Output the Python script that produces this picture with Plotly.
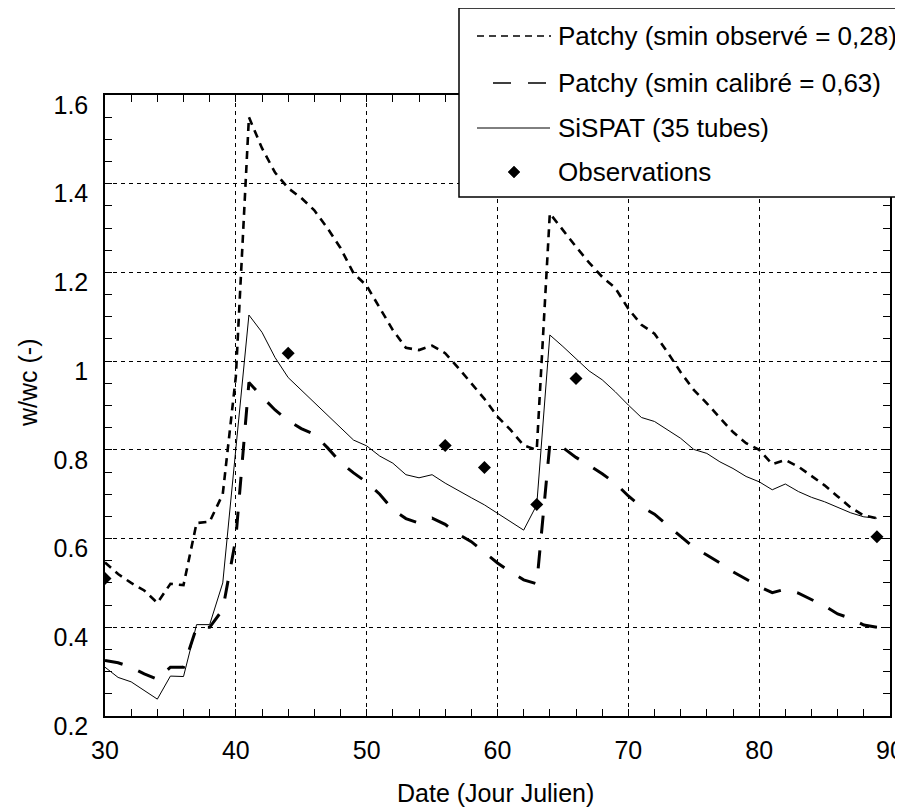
import plotly.graph_objects as go

# ---------------- data ----------------
days = list(range(30, 90))

patchy_observe = [
    0.546, 0.52, 0.50, 0.483, 0.455, 0.498, 0.495, 0.635, 0.638, 0.70,
    0.965, 1.55, 1.48, 1.425, 1.39, 1.368, 1.34, 1.30, 1.255, 1.198,
    1.17, 1.12, 1.07, 1.03, 1.025, 1.035, 1.018, 0.985, 0.95, 0.915,
    0.875, 0.845, 0.81, 0.80, 1.333, 1.295, 1.258, 1.222, 1.19, 1.165,
    1.118, 1.082, 1.062, 1.02, 0.975, 0.935, 0.905, 0.872, 0.84, 0.815,
    0.80, 0.768, 0.777, 0.762, 0.74, 0.72, 0.695, 0.67, 0.652, 0.646,
]

patchy_calibre = [
    0.325, 0.32, 0.31, 0.295, 0.283, 0.31, 0.31, 0.40, 0.40, 0.44,
    0.60, 0.952, 0.92, 0.89, 0.866, 0.848, 0.835, 0.805, 0.772, 0.748,
    0.727, 0.70, 0.665, 0.645, 0.635, 0.646, 0.632, 0.61, 0.593, 0.57,
    0.545, 0.525, 0.507, 0.498, 0.813, 0.805, 0.783, 0.765, 0.746, 0.725,
    0.696, 0.672, 0.655, 0.63, 0.605, 0.58, 0.563, 0.545, 0.525, 0.508,
    0.492, 0.478, 0.486, 0.477, 0.462, 0.448, 0.43, 0.42, 0.405, 0.40,
]

sispat = [
    0.31, 0.287, 0.277, 0.258, 0.238, 0.29, 0.289, 0.406, 0.406, 0.50,
    0.80, 1.104, 1.065, 1.008, 0.963, 0.935, 0.908, 0.878, 0.85, 0.822,
    0.809, 0.786, 0.770, 0.744, 0.737, 0.744, 0.725, 0.708, 0.692, 0.676,
    0.657, 0.638, 0.619, 0.676, 1.059, 1.033, 1.005, 0.978, 0.958, 0.931,
    0.901, 0.873, 0.864, 0.845, 0.826, 0.801, 0.792, 0.773, 0.758, 0.740,
    0.728, 0.710, 0.723, 0.706, 0.693, 0.683, 0.671, 0.658, 0.649, 0.646,
]

obs_days = [30, 44, 56, 59, 63, 66, 89]
obs_vals = [0.51, 1.018, 0.81, 0.76, 0.677, 0.961, 0.604]

x_tick_vals = [30, 40, 50, 60, 70, 80, 90]
x_tick_labels = ["30", "40", "50", "60", "70", "80", "90"]
y_tick_vals = [0.2, 0.4, 0.6, 0.8, 1.0, 1.2, 1.4, 1.6]
y_tick_labels = ["0.2", "0.4", "0.6", "0.8", "1", "1.2", "1.4", "1.6"]

legend_names = [
    "Patchy (smin observé = 0,28)",
    "Patchy (smin calibré = 0,63)",
    "SiSPAT (35 tubes)",
    "Observations",
]
x_title = "Date (Jour Julien)"
y_title = "w/wc (-)"

# ---------------- layout geometry (screen pixels) ----------------
OFF = 8                      # default page body margin
SCR_W, SCR_H = 903, 807
PLOT_L, PLOT_R, PLOT_T, PLOT_B = 105, 890, 95, 716
W, H = SCR_W - OFF, SCR_H - OFF
ML, MT = PLOT_L - OFF, PLOT_T - OFF
MR, MB = SCR_W - PLOT_R, SCR_H - PLOT_B
PW = PLOT_R - PLOT_L
PH = PLOT_B - PLOT_T


def px2x(sx):
    return (sx - PLOT_L) / PW


def py2y(sy):
    return (PLOT_B - sy) / PH


FONT = "Liberation Sans, Arial, sans-serif"

fig = go.Figure()

fig.add_trace(go.Scatter(
    x=days, y=patchy_observe, mode="lines", name=legend_names[0],
    line=dict(color="black", width=2.6, dash="8px,6px"), showlegend=False))
fig.add_trace(go.Scatter(
    x=days, y=patchy_calibre, mode="lines", name=legend_names[1],
    line=dict(color="black", width=3, dash="18px,17px"), showlegend=False))
fig.add_trace(go.Scatter(
    x=days, y=sispat, mode="lines", name=legend_names[2],
    line=dict(color="black", width=1), showlegend=False))
fig.add_trace(go.Scatter(
    x=obs_days, y=obs_vals, mode="markers", name=legend_names[3],
    marker=dict(symbol="diamond", size=10, color="black"), showlegend=False))

axis_common = dict(
    showline=True, linecolor="black", linewidth=1.5, mirror="allticks",
    ticks="inside", ticklen=7, tickwidth=1, tickcolor="black",
    showgrid=True, gridcolor="black", gridwidth=1, griddash="4px,4px",
    zeroline=False, ticklabeloverflow="allow", automargin=False,
    tickfont=dict(family=FONT, size=25, color="black"),
)

fig.update_xaxes(
    range=[30, 90], tickmode="array", tickvals=x_tick_vals, ticktext=x_tick_labels,
    minor=dict(dtick=2, ticks="inside", ticklen=7, tickcolor="black", showgrid=False),
    ticklabelstandoff=11,
    **axis_common)
fig.update_yaxes(
    range=[0.2, 1.6], tickmode="array", tickvals=y_tick_vals, ticktext=y_tick_labels,
    minor=dict(dtick=0.05, ticks="inside", ticklen=7, tickcolor="black", showgrid=False),
    ticklabelstandoff=10, ticklabelshift=10,
    **axis_common)

shapes = []
annotations = []

# legend box
shapes.append(dict(type="rect", xref="paper", yref="paper",
                   x0=px2x(459), x1=px2x(902), y0=py2y(197), y1=py2y(8),
                   line=dict(color="black", width=1.5), fillcolor="white",
                   layer="above"))
row_y = [36, 83, 128, 172]
shapes.append(dict(type="line", xref="paper", yref="paper",
                   x0=px2x(477), x1=px2x(551), y0=py2y(row_y[0]), y1=py2y(row_y[0]),
                   line=dict(color="black", width=1.6, dash="7px,5px"), layer="above"))
shapes.append(dict(type="line", xref="paper", yref="paper",
                   x0=px2x(493), x1=px2x(548), y0=py2y(row_y[1]), y1=py2y(row_y[1]),
                   line=dict(color="black", width=1.6, dash="18px,17px"), layer="above"))
shapes.append(dict(type="line", xref="paper", yref="paper",
                   x0=px2x(477), x1=px2x(550), y0=py2y(row_y[2]), y1=py2y(row_y[2]),
                   line=dict(color="black", width=1), layer="above"))
cx, cy = 514, row_y[3]
d = 6
shapes.append(dict(type="path", xref="paper", yref="paper",
                   path=(f"M {px2x(cx-d)} {py2y(cy)} L {px2x(cx)} {py2y(cy-d)} "
                         f"L {px2x(cx+d)} {py2y(cy)} L {px2x(cx)} {py2y(cy+d)} Z"),
                   line=dict(color="black", width=0.5), fillcolor="black",
                   layer="above"))
for name, ry in zip(legend_names, row_y):
    annotations.append(dict(text=name, xref="paper", yref="paper",
                            x=px2x(556), y=py2y(ry), xanchor="left", yanchor="middle",
                            showarrow=False,
                            font=dict(family=FONT, size=26, color="black")))

# axis titles
annotations.append(dict(text=x_title, xref="paper", yref="paper",
                        x=px2x(495), y=py2y(793), xanchor="center", yanchor="middle",
                        showarrow=False, font=dict(family=FONT, size=25, color="black")))
annotations.append(dict(text=y_title, xref="paper", yref="paper",
                        x=px2x(28), y=py2y(383), xanchor="center", yanchor="middle",
                        textangle=-90, showarrow=False,
                        font=dict(family=FONT, size=25, color="black")))

fig.update_layout(
    width=W, height=H,
    margin=dict(l=ML, r=MR, t=MT, b=MB),
    paper_bgcolor="white", plot_bgcolor="white",
    font=dict(family=FONT, color="black"),
    shapes=shapes, annotations=annotations,
    showlegend=False,
)

fig.write_html("out.html")
